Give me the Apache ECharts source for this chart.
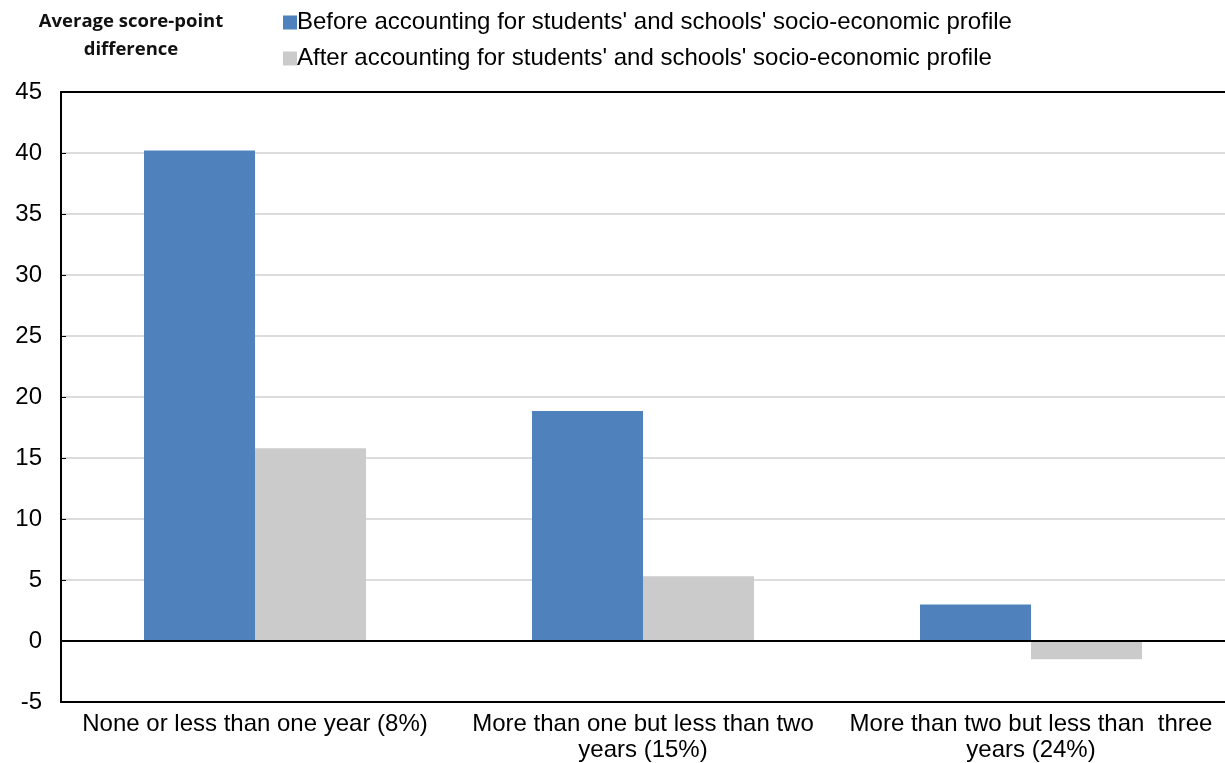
<!DOCTYPE html>
<html><head><meta charset="utf-8">
<script src="https://cdn.jsdelivr.net/npm/echarts@6/dist/echarts.min.js"></script>
<style>html,body{margin:0;padding:0;background:#fff}#c{width:1225px;height:763px}</style>
</head><body><div id="c"></div>
<script>
const categories = ["None or less than one year (8%)", "More than one but less than two\nyears (15%)", "More than two but less than  three\nyears (24%)"];
const seriesNames = ["Before accounting for students' and schools' socio-economic profile", "After accounting for students' and schools' socio-economic profile"];
const beforeValues = [40.2, 18.85, 3.0];
const afterValues = [15.8, 5.3, -1.5];
const yTitle = ["Average score-point", "difference"];

const chart = echarts.init(document.getElementById('c'), null, {renderer: 'canvas'});
const font = 'Liberation Sans, Arial, sans-serif';
chart.setOption({
  animation: false,
  graphic: [{
    type: 'text', x: 131, y: 8,
    style: {text: yTitle.join('\n'), font: 'bold 18.5px "Open Sans", sans-serif', fill: '#111', align: 'center', lineHeight: 28}
  }],
  legend: {
    orient: 'vertical', left: 278, top: 5, icon: 'rect', itemWidth: 14, itemHeight: 14, itemGap: 11,
    textStyle: {fontFamily: font, fontSize: 24, lineHeight: 25, color: '#000', padding: [0, 0, 0, -5]},
    data: seriesNames
  },
  grid: {left: 61, right: 0, top: 92, bottom: 61, containLabel: false},
  xAxis: [{
    type: 'category', data: categories,
    axisLine: {onZero: false, lineStyle: {color: '#000', width: 2}},
    axisTick: {show: false},
    axisLabel: {fontFamily: font, fontSize: 24, color: '#000', lineHeight: 26, margin: 9, interval: 0}
  }, {
    type: 'category', data: categories, position: 'top',
    axisLine: {onZero: false, lineStyle: {color: '#000', width: 2}},
    axisTick: {show: false}, axisLabel: {show: false}
  }],
  yAxis: {
    type: 'value', min: -5, max: 45, interval: 5,
    axisLine: {show: true, lineStyle: {color: '#000', width: 2}},
    axisTick: {show: true, inside: true, length: 5, lineStyle: {color: '#000'}},
    axisLabel: {fontFamily: font, fontSize: 24, color: '#000', margin: 19},
    splitLine: {lineStyle: {color: '#D0D0D0', width: 1.5}}
  },
  series: [
    {name: seriesNames[0], type: 'bar', data: beforeValues, barWidth: 111, barGap: '0%',
     itemStyle: {color: '#4F81BD'},
     markLine: {silent: true, symbol: 'none', label: {show: false}, lineStyle: {color: '#000', width: 2, type: 'solid'}, data: [{yAxis: 0}]}},
    {name: seriesNames[1], type: 'bar', data: afterValues, barWidth: 111,
     itemStyle: {color: '#CBCBCB'}}
  ]
});
</script></body></html>
